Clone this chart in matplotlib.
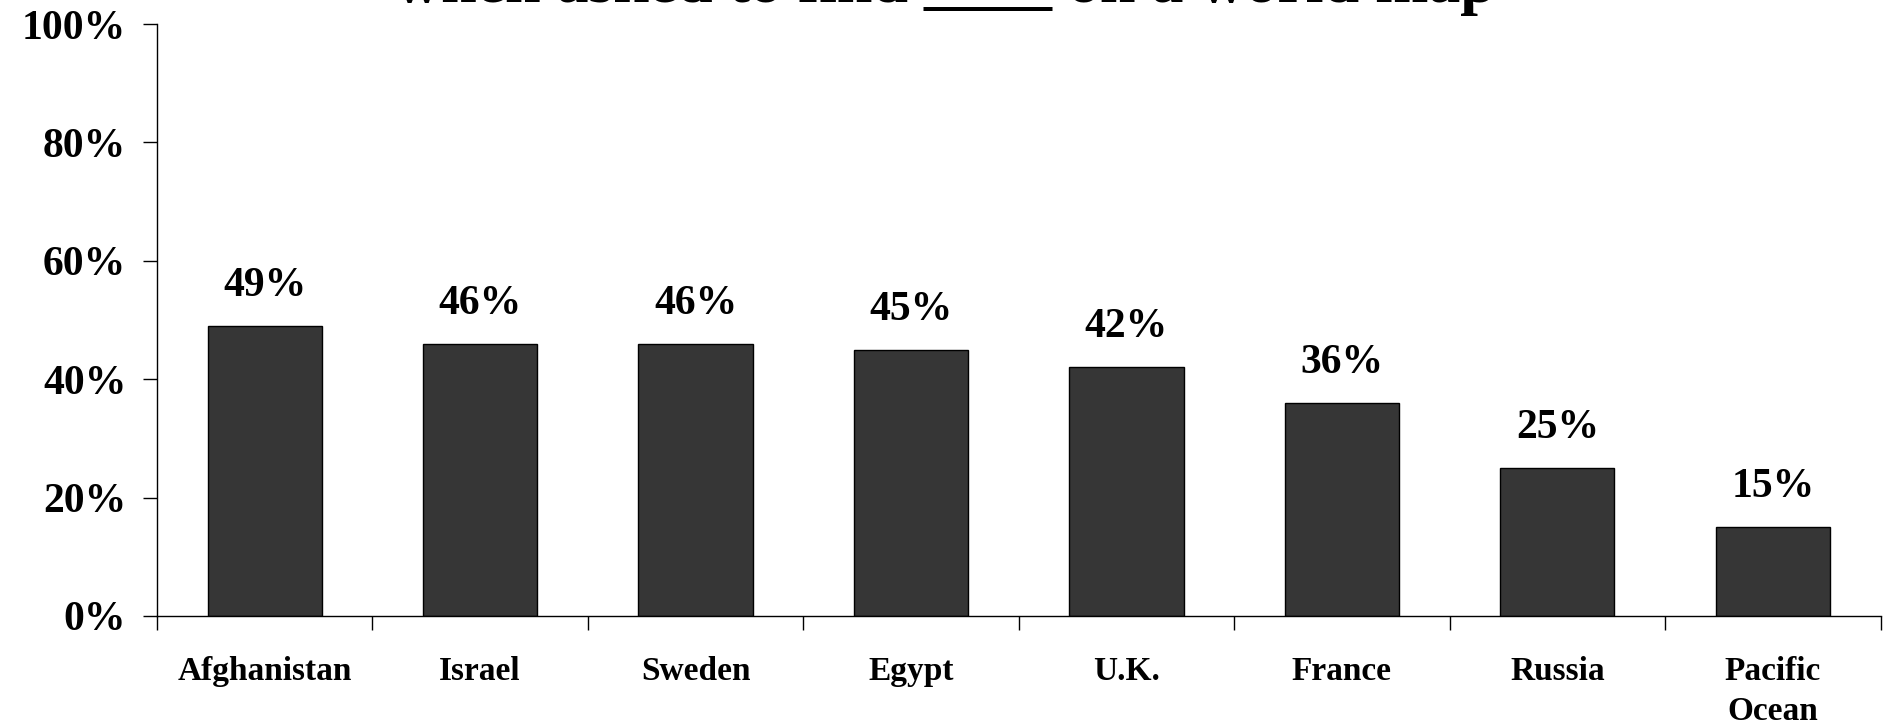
import matplotlib.pyplot as plt
from matplotlib.ticker import FixedLocator

categories = ['Afghanistan', 'Israel', 'Sweden', 'Egypt', 'U.K.', 'France', 'Russia', 'Pacific\nOcean']
values = [49, 46, 46, 45, 42, 36, 25, 15]
y_ticks = [0, 20, 40, 60, 80, 100]
title = 'when asked to find ____ on a world map'

plt.rcParams['font.family'] = ['Liberation Serif', 'DejaVu Serif']
plt.rcParams['font.weight'] = 'bold'

fig = plt.figure(figsize=(18.9, 7.28), dpi=100)
ax = fig.add_axes([0.083, 0.154, 0.912, 0.813])

x = range(len(categories))
bars = ax.bar(x, values, width=0.53, color='#363636', edgecolor='black', linewidth=1)

for b, v in zip(bars, values):
    ax.annotate(f'{v}%', (b.get_x() + b.get_width() / 2, v), xytext=(0, 15),
                textcoords='offset points', ha='center', va='bottom',
                fontsize=30, fontweight='bold')

ax.set_xlim(-0.5, len(categories) - 0.5)
ax.set_ylim(0, 100)
ax.set_yticks(y_ticks)
ax.set_yticklabels([f'{t}%' for t in y_ticks], fontsize=30, fontweight='bold')
ax.tick_params(axis='y', direction='out', length=10, width=1, pad=12)

# category labels between the boundary ticks
ax.set_xticks(list(x))
ax.set_xticklabels(categories, fontsize=24, fontweight='bold', linespacing=1.35, va='top')
ax.tick_params(axis='x', which='major', length=0, pad=29)
ax.xaxis.set_minor_locator(FixedLocator([i - 0.5 for i in range(len(categories) + 1)]))
ax.tick_params(axis='x', which='minor', direction='out', length=10, width=1)

for s in ['top', 'right']:
    ax.spines[s].set_visible(False)
ax.spines['left'].set_linewidth(1)
ax.spines['bottom'].set_linewidth(1)

# title sits mostly above the canvas, as in the source
fig.text(0.5, 0.997, title, ha='center', va='baseline', fontsize=46, fontweight='bold')

fig.savefig('out.png', dpi=100)
